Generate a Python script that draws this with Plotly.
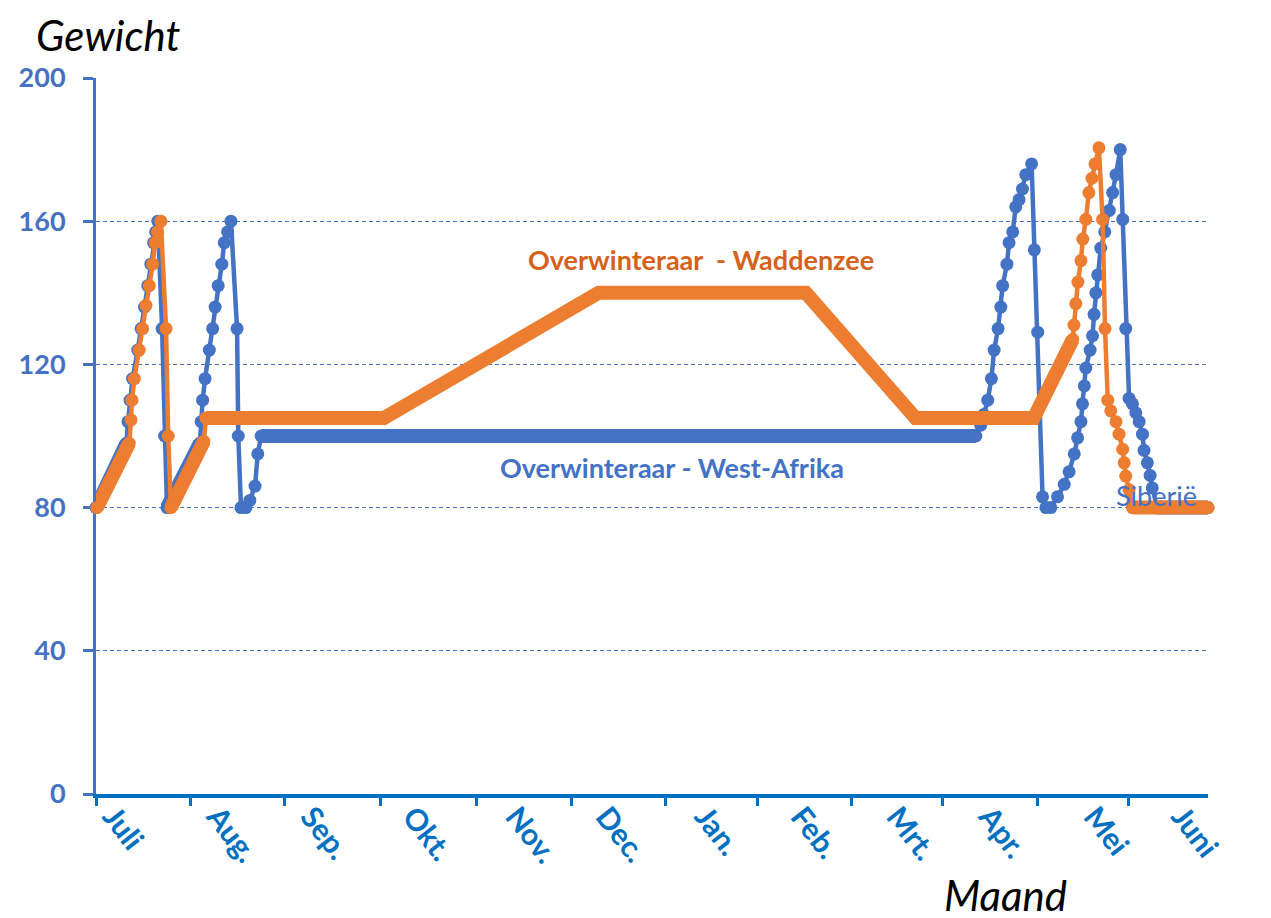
import plotly.graph_objects as go

# maanden op de x-as (dag 0 = 1 juli)
maanden = ["Juli", "Aug.", "Sep.", "Okt.", "Nov.", "Dec.", "Jan.", "Feb.", "Mrt.", "Apr.", "Mei", "Juni"]
maand_start = [0, 31, 62, 93.5, 125, 156, 187, 217, 248, 278, 309, 339]
# de maandnamen staan iets verschoven t.o.v. de streepjes
label_dag = [5.6, 39.7, 70.5, 104, 137.8, 167.4, 199.9, 231.4, 262.9, 293.1, 327.6, 356.4]
gewicht_ticks = [0, 40, 80, 120, 160, 200]

# Overwinteraar - West-Afrika (blauw)
west_dag = [0, 10, 10.5, 11.2, 12, 13.7, 14.8, 15.9, 17, 18, 18.9, 19.6, 20.3,
            21.7, 22.5, 23.3, 34.1, 34.5, 35, 35.8, 37.2, 38.3, 39.1, 40.1, 41.3, 42.1, 43.2, 44.3,
            46.3, 46.7, 47.6, 49.2, 50.5, 52.2, 53.1, 54.2,
            288.8, 290.4, 291.4, 292.7, 293.9, 294.8, 296.1, 297, 297.6, 299, 299.7, 300.9,
            301.9, 303, 304.1, 305.2, 307.1,
            308, 309.1, 310.7, 311.8, 313.4, 315.6, 317.8, 319.4, 321.1, 322.2, 323.3, 323.8,
            324.4, 324.9, 326.3, 327.1, 327.6, 328.2, 328.8, 329.8, 331.1, 332.6, 333.7, 334.8, 336.2,
            337, 338, 339.1, 340.2, 341.3, 342.4, 343.5, 344, 345.1, 346, 346.7, 348.2, 365]
west_gewicht = [80, 98, 104, 110, 116, 124, 130, 136, 142, 148, 154, 157, 160,
                130, 100, 80, 98, 104, 110, 116, 124, 130, 136, 142, 148, 154, 157, 160,
                130, 100, 80, 80, 82, 86, 95, 100,
                100, 103, 106, 110, 116, 124, 130, 136, 142, 148, 154, 157,
                164, 166, 169, 173, 176,
                152, 129, 83, 80, 80, 83, 86.5, 90, 95, 99.5, 104, 109,
                114, 119, 124, 128, 134, 140, 145, 152.5, 157, 163, 168, 173, 180,
                160.5, 130, 110.5, 109, 106.5, 104, 100.5, 96, 92.5, 89, 85.5, 80, 80]
# stukken waar de dagpunten zo dicht liggen dat ze een dikke band vormen
west_band_dag = [0, 10, None, 23.3, 34.1, None, 54.2, 288.8, None, 348.2, 365]
west_band_gewicht = [80, 98, None, 80, 98, None, 100, 100, None, 80, 80]

# Overwinteraar - Waddenzee (oranje)
wadden_dag = [0.3, 10.9, 11.5, 11.8, 12.6, 14.2, 15.3, 16.4, 17.5, 18.6, 19.4, 20.2, 21.3,
              23, 23.7, 24.6, 35.4, 36.1, 94.5, 165, 233, 269, 307.8, 320.6,
              321, 321.6, 322.3, 323.3, 323.9, 324.9, 325.9, 326.9, 327.9, 329.2,
              330.4, 331.2, 332.1, 333.1, 334.8, 335.8, 337, 337.5, 338, 339.1, 340.2, 365]
wadden_gewicht = [80, 98, 104.5, 110, 116, 124, 130, 136.5, 142, 148, 154, 157, 160,
                  130, 100, 80, 98.5, 105, 105, 140, 140, 105, 105, 127,
                  131, 137, 143, 149, 155, 160.5, 168, 172, 176, 180.5,
                  160.5, 130, 110, 107, 104, 100.5, 96.3, 92.5, 88.8, 85, 80, 80]
wadden_band_dag = [0.3, 10.9, None, 24.6, 35.4, None, 36.1, 94.5, 165, 233, 269, 307.8, 320.6,
                   None, 340.2, 365]
wadden_band_gewicht = [80, 98, None, 80, 98.5, None, 105, 105, 140, 140, 105, 105, 127,
                       None, 80, 80]

BLAUW = "#4472C4"
ORANJE = "#ED7D31"
ASBLAUW = "#0070C0"

fig = go.Figure()

fig.add_trace(go.Scatter(x=west_band_dag, y=west_band_gewicht, mode="lines",
                         line=dict(color=BLAUW, width=14), hoverinfo="skip"))
fig.add_trace(go.Scatter(x=west_dag, y=west_gewicht, mode="lines+markers",
                         line=dict(color=BLAUW, width=4.5), marker=dict(color=BLAUW, size=13),
                         cliponaxis=False, name="West-Afrika"))
fig.add_trace(go.Scatter(x=wadden_band_dag, y=wadden_band_gewicht, mode="lines",
                         line=dict(color=ORANJE, width=14), hoverinfo="skip"))
fig.add_trace(go.Scatter(x=wadden_dag, y=wadden_gewicht, mode="lines+markers",
                         line=dict(color=ORANJE, width=4.5), marker=dict(color=ORANJE, size=13),
                         cliponaxis=False, name="Waddenzee"))
# lege trace zodat de tweede x-as (alleen maandnamen) getekend wordt
fig.add_trace(go.Scatter(x=[None], y=[None], xaxis="x2", showlegend=False, hoverinfo="skip"))

fig.update_layout(
    width=1271, height=918,
    margin=dict(l=88, r=71, t=70, b=132),
    plot_bgcolor="white", paper_bgcolor="white",
    showlegend=False,
    font=dict(family="Lato"),
    xaxis=dict(
        range=[0, 365], tickvals=maand_start, ticktext=[""] * len(maand_start),
        ticks="outside", ticklen=8, tickwidth=3, tickcolor=ASBLAUW,
        showline=True, linecolor=ASBLAUW, linewidth=4,
        showgrid=False, zeroline=False, layer="below traces",
    ),
    xaxis2=dict(
        range=[0, 365], overlaying="x", side="bottom", anchor="y",
        tickvals=label_dag, ticktext=maanden, ticks="",
        tickangle=52, ticklabelstandoff=-2,
        tickfont=dict(family="Lato", size=30, color=ASBLAUW, weight="bold"),
        showline=False, showgrid=False, zeroline=False,
    ),
    yaxis=dict(
        range=[0, 200], tickvals=gewicht_ticks,
        ticks="outside", ticklen=10, tickwidth=3, tickcolor=BLAUW,
        tickfont=dict(family="Lato", size=27, color=BLAUW, weight="bold"),
        ticklabelstandoff=12,
        showline=True, linecolor=BLAUW, linewidth=3,
        showgrid=True, gridcolor=BLAUW, gridwidth=1.2, griddash="4px,3px",
        zeroline=False, layer="below traces",
    ),
    annotations=[
        dict(text="Gewicht", xref="paper", yref="paper", x=-0.056, y=1.0975,
             xanchor="left", yanchor="top", showarrow=False,
             font=dict(family="Lato", size=42, color="black", style="italic")),
        dict(text="Maand", xref="paper", yref="paper", x=0.761, y=-0.104,
             xanchor="left", yanchor="top", showarrow=False,
             font=dict(family="Lato", size=42, color="black", style="italic")),
        dict(text="Overwinteraar  - Waddenzee", x=198.6, y=149.4, showarrow=False,
             font=dict(family="Lato", size=27, color="#D5621A", weight="bold")),
        dict(text="Overwinteraar - West-Afrika", x=189, y=91.3, showarrow=False,
             font=dict(family="Lato", size=27, color=BLAUW, weight="bold")),
        dict(text="Siberië", x=348.2, y=83.5, showarrow=False,
             font=dict(family="Lato", size=27, color=BLAUW)),
    ],
)

fig.write_html("out.html")
